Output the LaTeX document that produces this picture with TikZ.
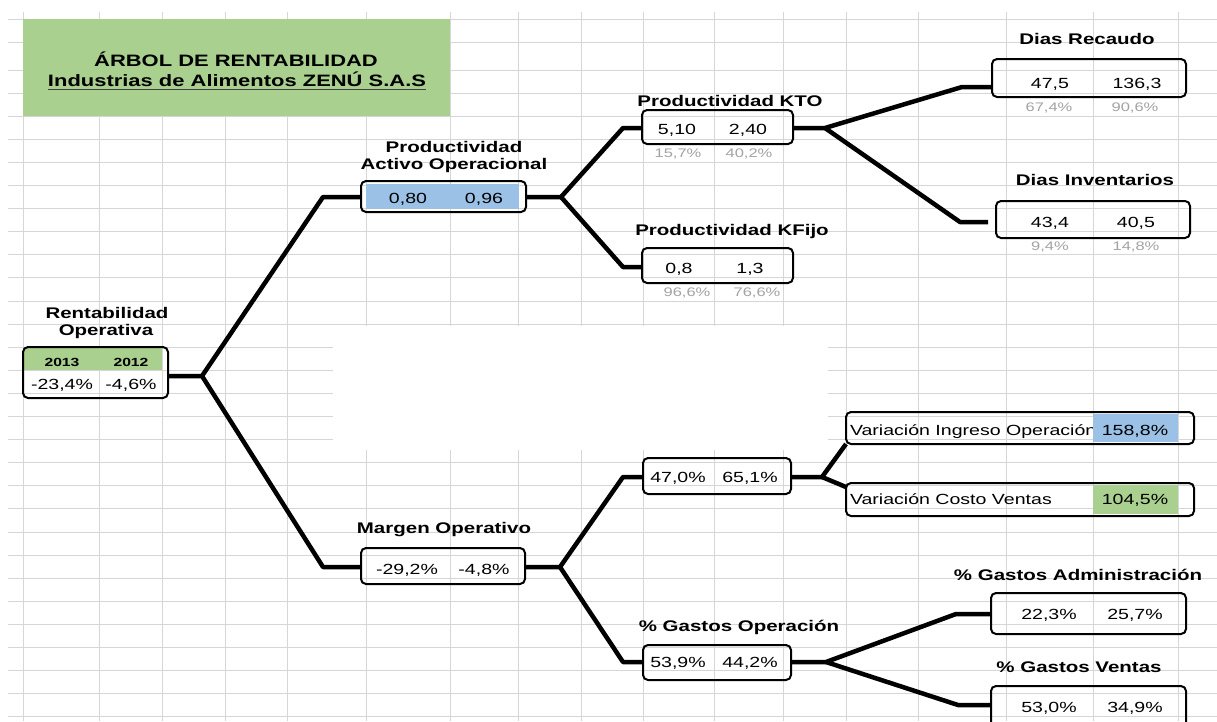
\documentclass[tikz,border=0pt]{standalone}
\usepackage{fontspec}
\setmainfont{Liberation Sans}[FakeStretch=1.33]
\definecolor{gridline}{HTML}{D6D6D6}
\definecolor{cellgreen}{HTML}{A9D08E}
\definecolor{cellblue}{HTML}{9BC2E6}
\definecolor{subgray}{HTML}{A3A3A3}
\begin{document}
\begin{tikzpicture}[x=1pt,y=-1pt,
  every node/.style={inner sep=0pt,outer sep=0pt},
  title/.style={font=\fontsize{16.5}{18}\selectfont\bfseries,anchor=base},
  lbl/.style={font=\fontsize{15.4}{17}\selectfont\bfseries,anchor=base},
  hdr/.style={font=\fontsize{11.8}{13}\selectfont\bfseries,anchor=base},
  val/.style={font=\fontsize{14.7}{16}\selectfont,anchor=base},
  sub/.style={font=\fontsize{12.4}{14}\selectfont,text=subgray,anchor=base},
  box/.style={draw,line width=2pt,rounded corners=5pt,rectangle},
  link/.style={line width=4.5pt,line join=round},
  gridrule/.style={draw=gridline,line width=1pt}]

\useasboundingbox (0,0) rectangle (1217,721);
\clip (0,0) rectangle (1217,721);
\fill[white] (0,0) rectangle (1217,721);

% spreadsheet grid
\foreach \x in {23,99,162,225,287,366,450,518,581,643,714,783,846,918,1006,1093,1178}
  \draw[gridrule] (\x,12) -- (\x,721);
\foreach \y in {19,42}
  \draw[gridrule] (8,\y) -- (1217,\y);
\foreach \k in {0,...,28}{
  \pgfmathsetmacro\yy{70+23.1*\k}
  \draw[gridrule] (8,\yy) -- (1217,\yy);
}
% blank area over the grid
\fill[white] (333,326) rectangle (828,450);

% title block
\fill[cellgreen] (23,19) rectangle (450,116);
\node[title] (t1) at (236,66) {ÁRBOL DE RENTABILIDAD};
\node[title] (t2) at (237,86) {Industrias de Alimentos ZENÚ S.A.S};
\draw[line width=1.6pt,black!75] ([yshift=-3.5pt]t2.base west) -- ([yshift=-3.5pt]t2.base east);

% Rentabilidad Operativa
\node[lbl] (rl1) at (107,318) {Rentabilidad};
\node[lbl] (rl2) at (106,335) {Operativa};
\fill[cellgreen] (24,348) rectangle (162,370);
\node[hdr] (rh1) at (62,366) {2013};
\node[hdr] (rh2) at (131,366) {2012};
\node[val] (rv1) at (62,389) {-23,4\%};
\node[val] (rv2) at (131,389) {-4,6\%};
\node[box,minimum width=145pt,minimum height=51pt] (root) at (95.5,372.5) {};

% Productividad Activo Operacional
\node[lbl] (pl1) at (454,152) {Productividad};
\node[lbl] (pl2) at (454,169) {Activo Operacional};
\fill[cellblue] (366,184) rectangle (519,209);
\node[val] (pv1) at (408,203) {0,80};
\node[val] (pv2) at (484,203) {0,96};
\node[box,minimum width=165pt,minimum height=31pt] (pao) at (443.5,196.5) {};

% Productividad KTO
\node[lbl] (kl) at (730,106) {Productividad KTO};
\node[val] (kv1) at (677,134) {5,10};
\node[val] (kv2) at (748,134) {2,40};
\node[sub] (ks1) at (678,157.5) {15,7\%};
\node[sub] (ks2) at (749,157.5) {40,2\%};
\node[box,minimum width=151pt,minimum height=34pt] (kto) at (717.5,127) {};

% Dias Recaudo
\node[lbl] (rl) at (1087,44) {Dias Recaudo};
\node[val] (dv1) at (1050,88.5) {47,5};
\node[val] (dv2) at (1137,88.5) {136,3};
\node[sub] (ds1) at (1049,111.5) {67,4\%};
\node[sub] (ds2) at (1135,111.5) {90,6\%};
\node[box,minimum width=194pt,minimum height=38pt] (dr) at (1089,78) {};

% Dias Inventarios
\node[lbl] (il) at (1095,185) {Dias Inventarios};
\node[val] (iv1) at (1050,227) {43,4};
\node[val] (iv2) at (1136,227) {40,5};
\node[sub] (is1) at (1050,250.5) {9,4\%};
\node[sub] (is2) at (1136,250.5) {14,8\%};
\node[box,minimum width=194pt,minimum height=37pt] (di) at (1093,219.5) {};

% Productividad KFijo
\node[lbl] (fl) at (732,235) {Productividad KFijo};
\node[val] (fv1) at (679,273) {0,8};
\node[val] (fv2) at (750,273) {1,3};
\node[sub] (fs1) at (687,296) {96,6\%};
\node[sub] (fs2) at (757,296) {76,6\%};
\node[box,minimum width=151pt,minimum height=35pt] (kf) at (717.5,265.5) {};

% Margen Operativo
\node[lbl] (ml) at (444,533) {Margen Operativo};
\node[val] (mv1) at (407,574) {-29,2\%};
\node[val] (mv2) at (484,574) {-4,8\%};
\node[box,minimum width=164pt,minimum height=36pt] (mo) at (443,566) {};

% margin breakdown
\node[val] (cv1) at (678,482) {47,0\%};
\node[val] (cv2) at (750,482) {65,1\%};
\node[box,minimum width=148pt,minimum height=36pt] (mc) at (717,476) {};

% Variacion Ingreso Operacion
\node[val,anchor=base west] (vit) at (850,435) {Variación Ingreso Operación};
\fill[cellblue] (1093,414) rectangle (1178,442);
\node[val] (viv) at (1135,435) {158,8\%};
\node[box,minimum width=348pt,minimum height=32pt] (vi) at (1020,428) {};

% Variacion Costo Ventas
\node[val,anchor=base west] (vct) at (850,504) {Variación Costo Ventas};
\fill[cellgreen] (1093,485) rectangle (1178,514);
\node[val] (vcv) at (1135,504) {104,5\%};
\node[box,minimum width=348pt,minimum height=33pt] (vc) at (1020,499.5) {};

% % Gastos Operacion
\node[lbl] (gl) at (739,631) {\% Gastos Operación};
\node[val] (gv1) at (678,667) {53,9\%};
\node[val] (gv2) at (750,667) {44,2\%};
\node[box,minimum width=148pt,minimum height=35pt] (go) at (717,662.5) {};

% % Gastos Administracion
\node[lbl] (al) at (1078,580) {\% Gastos Administración};
\node[val] (av1) at (1049,619) {22,3\%};
\node[val] (av2) at (1135,619) {25,7\%};
\node[box,minimum width=195pt,minimum height=41pt] (ga) at (1088.5,613.5) {};

% % Gastos Ventas
\node[lbl] (vl) at (1079,672) {\% Gastos Ventas};
\node[val] (sv1) at (1049,712) {53,0\%};
\node[val] (sv2) at (1135,712) {34,9\%};
\node[box,minimum width=195pt,minimum height=46pt] (gv) at (1088.5,709) {};

% connectors
\coordinate (j0) at (202,376);
\coordinate (u0) at (323,197);
\coordinate (d0) at (323,567);
\draw[link] (root.east |- j0) -- (j0) -- (u0) -- (pao.west |- u0);
\draw[link] (j0) -- (d0) -- (mo.west |- d0);

\coordinate (j1) at (561,197);
\coordinate (u1) at (623,128);
\coordinate (d1) at (623,267);
\draw[link] (pao.east |- j1) -- (j1) -- (u1) -- (kto.west |- u1);
\draw[link] (j1) -- (d1) -- (kf.west |- d1);

\coordinate (j2) at (825,128);
\coordinate (u2) at (962,87);
\coordinate (d2) at (960,222);
\coordinate (e2) at (988,222);
\draw[link] (kto.east |- j2) -- (j2) -- (u2) -- (dr.west |- u2);
\draw[link] (j2) -- (d2) -- (e2);

\coordinate (j3) at (560,567);
\coordinate (u3) at (623,477);
\coordinate (d3) at (623,662);
\draw[link] (mo.east |- j3) -- (j3) -- (u3) -- (mc.west |- u3);
\draw[link] (j3) -- (d3) -- (go.west |- d3);

\coordinate (j4) at (822,477);
\coordinate (d4) at (846,487);
\draw[link] (mc.east |- j4) -- (j4) -- (vi.south west);
\draw[link] (j4) -- (vc.west |- d4);

\coordinate (j5) at (826,662);
\coordinate (u5) at (956,614);
\coordinate (d5) at (958,705);
\draw[link] (go.east |- j5) -- (j5) -- (u5) -- (ga.west |- u5);
\draw[link] (j5) -- (d5) -- (gv.west |- d5);
\end{tikzpicture}
\end{document}
